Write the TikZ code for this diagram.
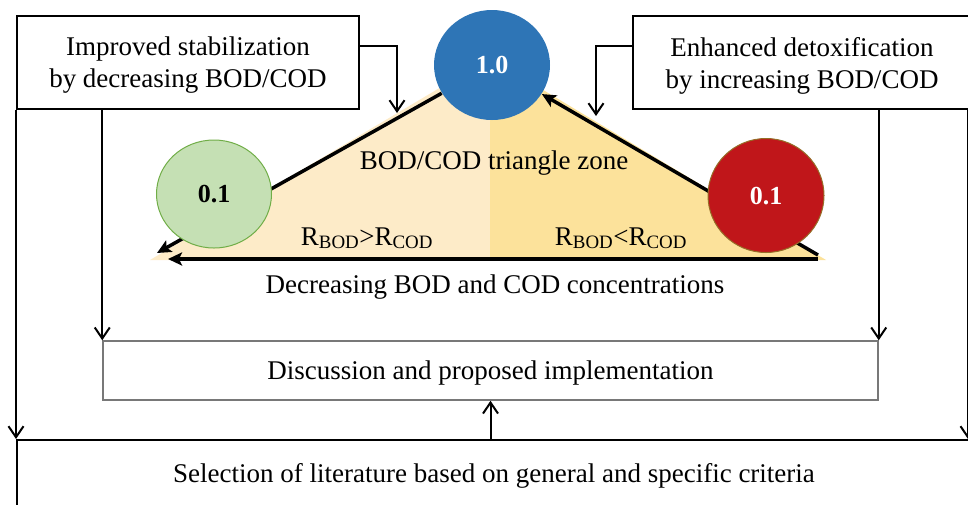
\documentclass[tikz,border=0pt]{standalone}
\usepackage{fontspec}
\setmainfont{Liberation Serif}
\usetikzlibrary{arrows.meta,shapes.geometric,calc}
\definecolor{triLight}{RGB}{253,235,200}
\definecolor{triDark}{RGB}{252,226,155}
\definecolor{cBlue}{RGB}{46,117,182}
\definecolor{cGreenFill}{RGB}{197,224,180}
\definecolor{cGreenLine}{RGB}{112,173,71}
\definecolor{cRedFill}{RGB}{192,22,26}
\definecolor{cRedLine}{RGB}{150,110,40}
\definecolor{discLine}{RGB}{120,120,120}
\begin{document}
\begin{tikzpicture}[x=1pt,y=-1pt,
  every node/.style={font=\fontsize{27}{32}\selectfont},
  boxnode/.style={draw=black, line width=2pt, align=center, inner sep=0pt},
  discbox/.style={draw=discLine, line width=1.5pt, align=center, inner sep=0pt},
  conn/.style={line width=2pt, -{Straight Barb[length=11pt,width=15pt,line width=2pt]}},
  heavy/.style={line width=3.5pt, -{Stealth[length=14pt,width=13pt,inset=3pt]}},
  circ/.style={ellipse, inner sep=0pt, line width=1pt, font=\fontsize{26}{30}\selectfont\bfseries},
  txt/.style={inner sep=0pt}
]
\useasboundingbox (0,0) rectangle (968,504);
\clip (0,0) rectangle (968,504);

% triangle fill
\fill[triLight] (150,260) -- (490,58) -- (490,260) -- cycle;
\fill[triDark] (490,58) -- (826,260) -- (490,260) -- cycle;

% blue top circle
\node[circ, fill=cBlue, text=white, minimum width=116pt, minimum height=110pt, text depth=-2pt] (blue) at (492,65) {1.0};

% triangle edges
\coordinate (tipL) at (157,253);
\coordinate (triR) at (818,255);
\coordinate (baseR) at (818,259);
\coordinate (baseL) at (168,259);
\draw[heavy] (blue) -- (tipL);
\draw[heavy] (triR) -- (blue);
\draw[heavy] (baseR) -- (baseL);

% side circles
\node[circ, fill=cGreenFill, draw=cGreenLine, text=black, minimum width=115pt, minimum height=108pt, text depth=-3pt] (green) at (214,194) {0.1};
\node[circ, fill=cRedFill, draw=cRedLine, text=white, minimum width=116pt, minimum height=114pt, text depth=-3pt] (red) at (766,195.5) {0.1};

% texts in triangle
\node[txt] (zone) at (494,163) {BOD/COD triangle zone};
\node[txt, anchor=base] (rgt) at (367,245) {R\textsubscript{BOD}>R\textsubscript{COD}};
\node[txt, anchor=base] (rlt) at (621,245) {R\textsubscript{BOD}<R\textsubscript{COD}};
\node[txt] (dec) at (495,287) {Decreasing BOD and COD concentrations};

% boxes
\node[boxnode, fill=white, minimum width=342pt, minimum height=93pt, text depth=-2pt] (lbox) at (188,62.5) {Improved stabilization\\by decreasing BOD/COD};
\node[boxnode, fill=white, minimum width=338pt, minimum height=93pt, text depth=-2pt] (rbox) at (802,62.5) {Enhanced detoxification\\by increasing BOD/COD};
\node[discbox, minimum width=775pt, minimum height=59pt, text depth=-4pt] (disc) at (490.5,370.5) {Discussion and proposed implementation};
\node[boxnode, minimum width=954pt, minimum height=66pt, text depth=0pt] (sel) at (494,473) {Selection of literature based on general and specific criteria};

% connectors
\coordinate (tl) at (397,113);
\coordinate (tr) at (596,116);
\draw[conn] ([yshift=-31pt]lbox.north east) -| (tl);
\draw[conn] ([yshift=-31pt]rbox.north west) -| (tr);
\draw[conn] (lbox.south -| disc.north west) -- (disc.north west);
\draw[conn] (rbox.south -| disc.north east) -- (disc.north east);
\draw[conn] (lbox.south west) -- (sel.north west);
\draw[conn] ([xshift=-4pt]rbox.south east) -- ([xshift=-4pt]sel.north east);
\draw[conn] (disc.south |- sel.north) -- (disc.south);
\end{tikzpicture}
\end{document}
